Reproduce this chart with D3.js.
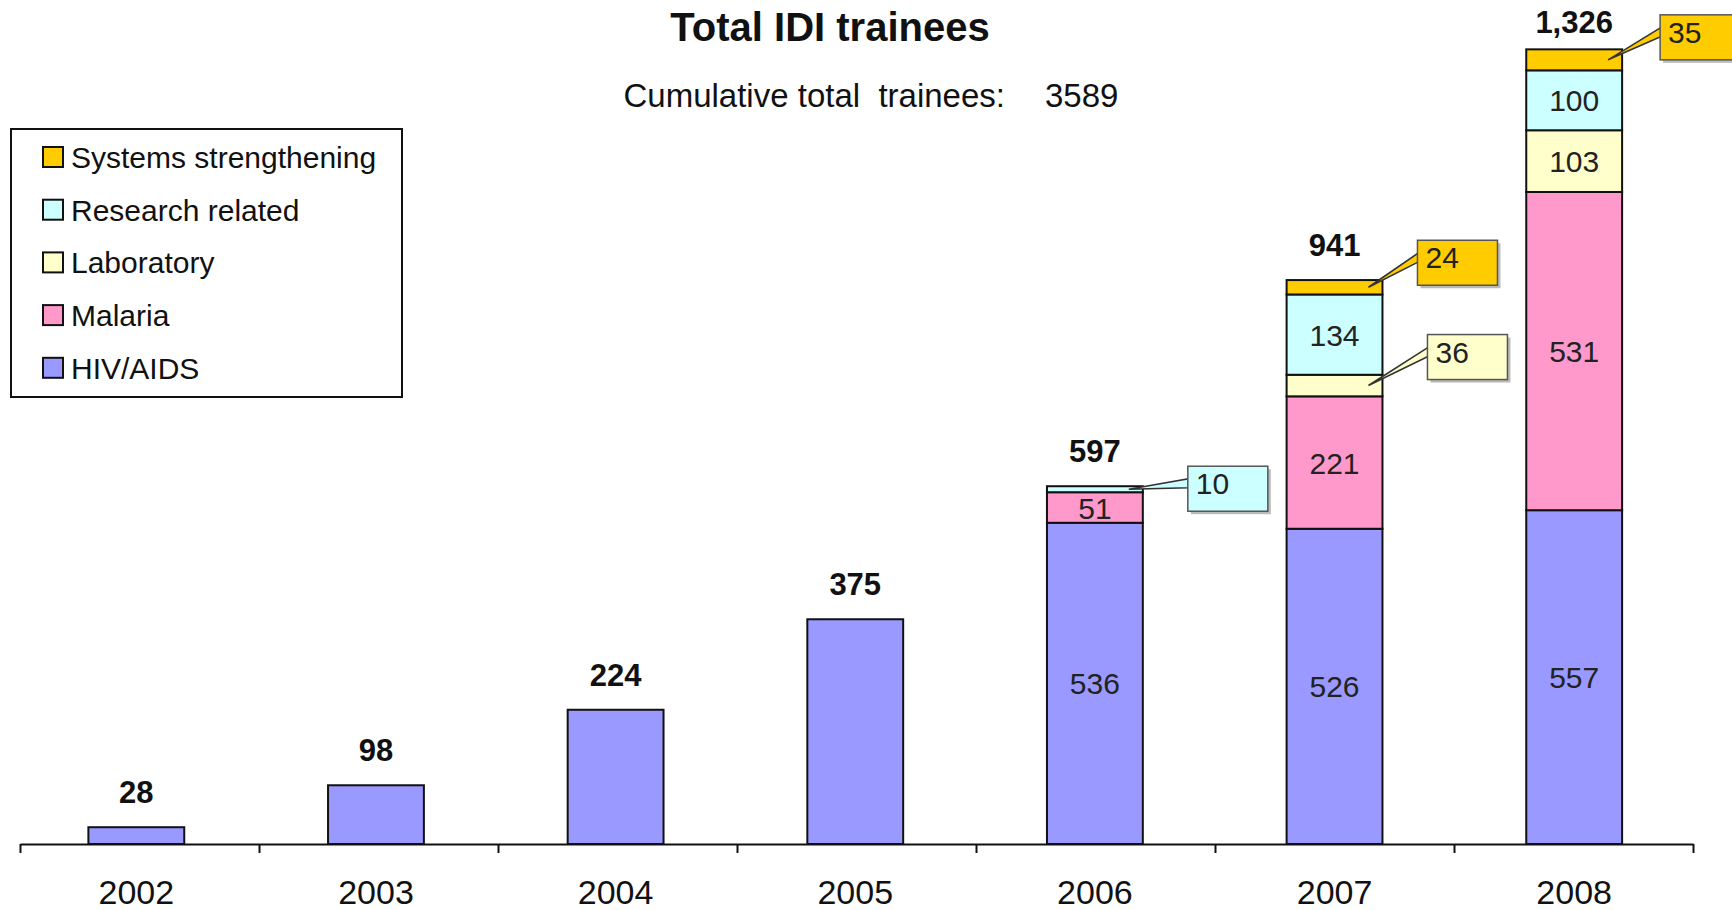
<!DOCTYPE html>
<html>
<head>
<meta charset="utf-8">
<script src="https://cdn.jsdelivr.net/npm/d3@7"></script>
<style>
  body { margin: 0; background: #fff; }
  svg { display: block; font-family: "Liberation Sans", Arial, sans-serif; }
</style>
</head>
<body>
<div id="plot"></div>
<script>
const years = ["2002", "2003", "2004", "2005", "2006", "2007", "2008"];
const hivAids = [28, 98, 224, 375, 536, 526, 557];
const malaria = [0, 0, 0, 0, 51, 221, 531];
const laboratory = [0, 0, 0, 0, 0, 36, 103];
const research = [0, 0, 0, 0, 10, 134, 100];
const systems = [0, 0, 0, 0, 0, 24, 35];
const seriesNames = ["HIV/AIDS", "Malaria", "Laboratory", "Research related", "Systems strengthening"];
const seriesColors = ["#9999ff", "#ff99cc", "#ffffcc", "#ccffff", "#ffcc00"];
const cumulativeTotal = 3589;

// where the callout boxes sit, relative to the right edge of the bar and the segment middle
const calloutOffsets = {
  "Research related|2006": [45, -23],
  "Systems strengthening|2007": [35, -47],
  "Laboratory|2007": [45, -51],
  "Systems strengthening|2008": [38, -45]
};

const w = 1732;
const h = 910;
const base = 844;

const seriesValues = [hivAids, malaria, laboratory, research, systems];
const rows = years.map((yr, i) => {
  const row = { year: yr };
  seriesNames.forEach((s, k) => row[s] = seriesValues[k][i]);
  row.total = seriesValues.reduce((a, v) => a + v[i], 0);
  row.parts = seriesValues.filter(v => v[i] > 0).length;
  return row;
});

const color = d3.scaleOrdinal().domain(seriesNames).range(seriesColors);

const xScale = d3.scaleBand().
  domain(years).
  range([16.5, 1694]).
  paddingInner(0.6).
  paddingOuter(0.3);

const yScale = d3.scaleLinear().
  domain([0, 1400]).
  range([base, 5]);

const svg = d3.select("#plot").
  append("svg").
  attr("width", w).
  attr("height", h);

// title
svg.append("text").
  attr("x", 830).
  attr("y", 41).
  attr("text-anchor", "middle").
  style("font-size", "40px").
  style("font-weight", "bold").
  attr("fill", "#111").
  text("Total IDI trainees");

svg.append("text").
  attr("x", 1005).
  attr("y", 107).
  attr("text-anchor", "end").
  style("font-size", "33px").
  style("white-space", "pre").
  attr("fill", "#111").
  text("Cumulative total  trainees:");

svg.append("text").
  attr("x", 1045).
  attr("y", 107).
  style("font-size", "33px").
  attr("fill", "#111").
  text(cumulativeTotal);

// stacked bars
const stacked = d3.stack().keys(seriesNames)(rows);

const layer = svg.selectAll(".layer").
  data(stacked).
  enter().
  append("g").
  attr("class", "layer").
  attr("fill", d => color(d.key));

layer.selectAll("rect").
  data(d => d.map(p => ({ key: d.key, p: p }))).
  enter().
  filter(d => d.p[1] - d.p[0] > 0).
  append("rect").
  attr("x", d => xScale(d.p.data.year)).
  attr("y", d => yScale(d.p[1])).
  attr("width", xScale.bandwidth()).
  attr("height", d => yScale(d.p[0]) - yScale(d.p[1])).
  attr("stroke", "#111").
  attr("stroke-width", 2);

// segment labels in the stacked years
const segs = [];
stacked.forEach(s => s.forEach(p => {
  const v = p[1] - p[0];
  if (v > 0 && p.data.parts > 1) segs.push({ key: s.key, year: p.data.year, v: v, p: p });
}));

svg.selectAll(".seglabel").
  data(segs.filter(d => d.v >= 50)).
  enter().
  append("text").
  attr("class", "seglabel").
  attr("x", d => xScale(d.year) + xScale.bandwidth() / 2).
  attr("y", d => (yScale(d.p[0]) + yScale(d.p[1])) / 2 + 11).
  attr("text-anchor", "middle").
  style("font-size", "30px").
  attr("fill", "#222").
  text(d => d.v);

// callouts for the thin segments
const small = segs.filter(d => d.v < 50);
small.forEach(d => {
  const off = calloutOffsets[d.key + "|" + d.year] || [40, -45];
  const right = xScale(d.year) + xScale.bandwidth();
  const mid = (yScale(d.p[0]) + yScale(d.p[1])) / 2;
  const bx = right + off[0];
  const by = mid + off[1];
  const bw = 80;
  const bh = 45;
  const g = svg.append("g").attr("class", "callout");
  const px = right - 14;
  g.append("path").
    attr("d", "M" + px + "," + mid + "L" + (bx + 1) + "," + (by + bh * 0.28) + "L" + (bx + 1) + "," + (by + bh * 0.48) + "Z").
    attr("fill", color(d.key)).
    attr("stroke", "#333").
    attr("stroke-width", 1.6);
  g.append("rect").
    attr("x", bx + 3).
    attr("y", by + 3).
    attr("width", bw).
    attr("height", bh).
    attr("fill", "#bbb");
  g.append("rect").
    attr("x", bx).
    attr("y", by).
    attr("width", bw).
    attr("height", bh).
    attr("fill", color(d.key)).
    attr("stroke", "#555").
    attr("stroke-width", 1.5);
  g.append("text").
    attr("x", bx + 8).
    attr("y", by + 28).
    style("font-size", "30px").
    attr("fill", "#222").
    text(d.v);
});

// totals
svg.selectAll(".total").
  data(rows).
  enter().
  append("text").
  attr("class", "total").
  attr("x", d => xScale(d.year) + xScale.bandwidth() / 2).
  attr("y", d => Math.max(yScale(d.total) - 24, 33)).
  attr("text-anchor", "middle").
  style("font-size", "31px").
  style("font-weight", "bold").
  attr("fill", "#111").
  text(d => d3.format(",")(d.total));

// x axis: ticks between categories, labels under them
const tickScale = d3.scaleLinear().domain([0, years.length]).range([20, 1693]);

const axisG = svg.append("g").
  attr("transform", "translate(0," + base + ")").
  call(d3.axisBottom(tickScale).ticks(years.length).tickFormat("").tickSize(9).tickSizeOuter(0));
axisG.selectAll("path, line").attr("stroke", "#111").attr("stroke-width", 2);

const labelG = svg.append("g").
  attr("transform", "translate(0," + base + ")").
  call(d3.axisBottom(xScale).tickSize(0).tickPadding(36));
labelG.select(".domain").remove();
labelG.selectAll("text").
  style("font-size", "34px").
  style("font-family", "\"Liberation Sans\", Arial, sans-serif").
  attr("fill", "#111");

// legend
const legend = svg.append("g").attr("id", "legend");
legend.append("rect").
  attr("x", 11).
  attr("y", 129).
  attr("width", 391).
  attr("height", 268).
  attr("fill", "#fff").
  attr("stroke", "#111").
  attr("stroke-width", 2);

const legendKeys = seriesNames.slice().reverse();
const size = 20;

legend.selectAll(".lsw").
  data(legendKeys).
  enter().
  append("rect").
  attr("class", "lsw").
  attr("x", 43).
  attr("y", (d, i) => 147 + i * 52.7).
  attr("width", size).
  attr("height", size).
  attr("fill", d => color(d)).
  attr("stroke", "#111").
  attr("stroke-width", 2);

legend.selectAll(".ltx").
  data(legendKeys).
  enter().
  append("text").
  attr("class", "ltx").
  attr("x", 71).
  attr("y", (d, i) => 157 + i * 52.7 + 11).
  style("font-size", "30px").
  attr("fill", "#111").
  text(d => d);
</script>
</body>
</html>
